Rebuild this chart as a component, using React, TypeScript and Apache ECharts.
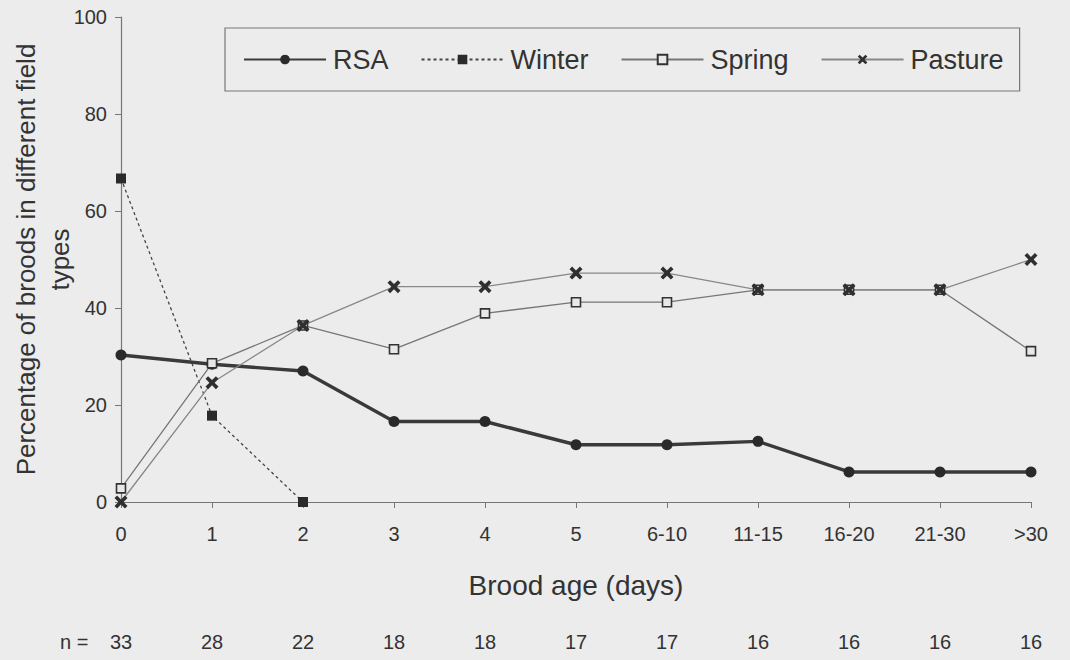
import React, { useEffect, useRef } from "react";
import * as echarts from "echarts";

const categories = ["0", "1", "2", "3", "4", "5", "6-10", "11-15", "16-20", "21-30", ">30"];
const nValues = ["33", "28", "22", "18", "18", "17", "17", "16", "16", "16", "16"];
const rsa = [30.3, 28.4, 27.0, 16.6, 16.6, 11.8, 11.8, 12.5, 6.2, 6.2, 6.2];
const winter: (number | null)[] = [66.7, 17.8, 0, null, null, null, null, null, null, null, null];
const spring = [2.8, 28.6, 36.4, 31.5, 38.9, 41.2, 41.2, 43.75, 43.75, 43.75, 31.1];
const pasture = [0, 24.6, 36.4, 44.4, 44.4, 47.2, 47.2, 43.75, 43.75, 43.75, 50.0];
const yTicks = { min: 0, max: 100, interval: 20 };

const FONT = "'Liberation Sans', Arial, sans-serif";
const TXT = "#333";
const XSYM = "path://M0,2L2,0L5,3L8,0L10,2L7,5L10,8L8,10L5,7L2,10L0,8L3,5Z";

export default function App() {
  const ref = useRef<HTMLDivElement>(null);
  useEffect(() => {
    if (!ref.current) return;
    const chart = echarts.init(ref.current, undefined, { renderer: "svg" });
    chart.setOption({
      animation: false,
      backgroundColor: "#ececec",
      textStyle: { fontFamily: FONT, color: TXT },
      grid: { left: 121, right: 39, top: 17, bottom: 158, containLabel: false, outerBoundsMode: "none" },
      legend: {
        left: 225,
        top: 28,
        padding: [18, 16, 18, 18],
        itemGap: 32,
        itemWidth: 82,
        itemHeight: 12,
        borderColor: "#777",
        borderWidth: 1.2,
        textStyle: { fontSize: 27, color: TXT, fontFamily: FONT, padding: [0, 0, 0, 2] },
        data: ["RSA", "Winter", "Spring", "Pasture"],
      },
      graphic: [
        {
          type: "text",
          left: 60,
          top: 632,
          style: { text: "n =", font: `20px ${FONT}`, fill: TXT },
        },
      ],
      xAxis: [
        {
          type: "category",
          data: categories,
          boundaryGap: false,
          axisLine: { lineStyle: { color: "#777", width: 1.2 } },
          axisTick: { length: 6, lineStyle: { color: "#777" } },
          axisLabel: { fontSize: 20, color: TXT, margin: 22 },
          name: "Brood age (days)",
          nameLocation: "middle",
          nameGap: 69,
          nameMoveOverlap: false,
          nameTextStyle: { fontSize: 28, color: TXT },
        },
        {
          type: "category",
          data: nValues,
          position: "bottom",
          offset: 112,
          boundaryGap: false,
          axisLine: { show: false },
          axisTick: { show: false },
          axisLabel: { fontSize: 20, color: TXT, margin: 18 },
        },
      ],
      yAxis: {
        type: "value",
        min: yTicks.min,
        max: yTicks.max,
        interval: yTicks.interval,
        splitLine: { show: false },
        axisLine: { show: true, lineStyle: { color: "#777", width: 1.2 } },
        axisTick: { show: true, length: 6, lineStyle: { color: "#777" } },
        axisLabel: { fontSize: 20, color: TXT, margin: 14 },
        name: "Percentage of broods in different field\ntypes",
        nameLocation: "middle",
        nameRotate: 90,
        nameGap: 44,
        nameMoveOverlap: false,
        nameTextStyle: { fontSize: 26, color: TXT, lineHeight: 34 },
      },
      series: [
        {
          name: "RSA",
          type: "line",
          data: rsa,
          symbol: "circle",
          symbolSize: 11,
          lineStyle: { color: "#3a3a3a", width: 3.4 },
          itemStyle: { color: "#2a2a2a" },
        },
        {
          name: "Winter",
          type: "line",
          data: winter,
          symbol: "rect",
          symbolSize: 10,
          lineStyle: { color: "#444", width: 1.3, type: [3, 3] },
          itemStyle: { color: "#2a2a2a" },
        },
        {
          name: "Spring",
          type: "line",
          data: spring,
          symbol: "rect",
          symbolSize: 9,
          lineStyle: { color: "#777", width: 1.3 },
          itemStyle: { color: "#e8e8e8", borderColor: "#333", borderWidth: 1.6 },
        },
        {
          name: "Pasture",
          type: "line",
          data: pasture,
          symbol: XSYM,
          symbolSize: 13,
          lineStyle: { color: "#888", width: 1.3 },
          itemStyle: { color: "#2f2f2f" },
        },
      ],
    });
    return () => chart.dispose();
  }, []);
  return <div ref={ref} style={{ width: 1070, height: 660, position: "absolute", left: 0, top: 0 }} />;
}
